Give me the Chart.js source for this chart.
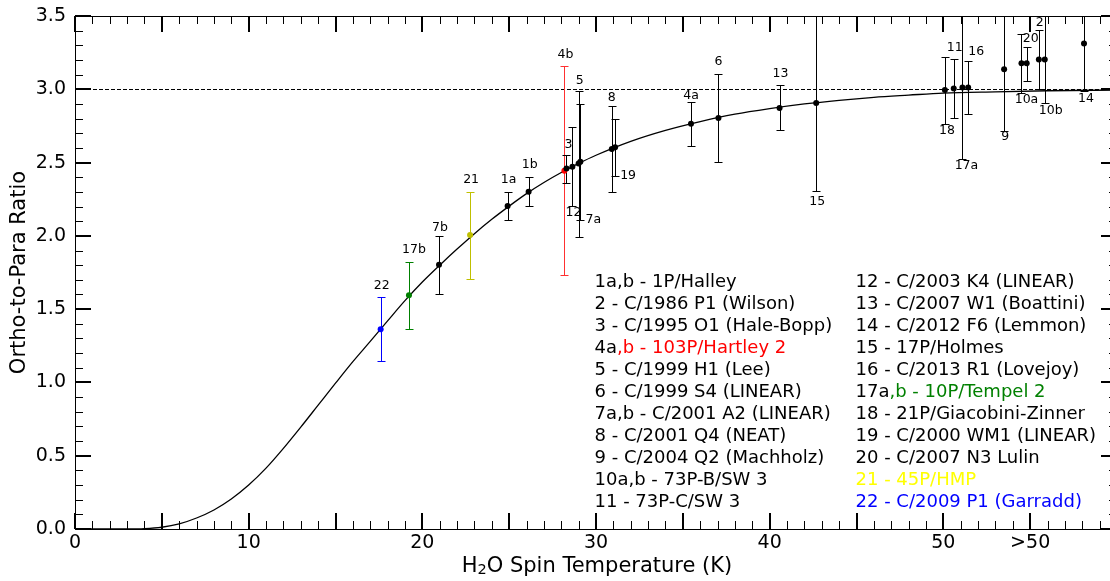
<!DOCTYPE html>
<html>
<head>
<meta charset="utf-8">
<script src="https://cdn.jsdelivr.net/npm/chart.js@4.4.1/dist/chart.umd.min.js"></script>
<style>
  html, body { margin: 0; padding: 0; background: #fff; overflow: hidden; }
  canvas { display: block; }
</style>
</head>
<body>
<canvas id="myChart" width="1117" height="581"></canvas>
<script>
// Comet measurements: label, spin temperature (K), ortho-to-para ratio, error bar ends
const cometLabels = ['22', '17b', '7b', '21', '1a', '1b', '4b', '3', '12', '5', '7a', '8', '19',
    '4a', '6', '13', '15', '18', '11', '17a', '16', '9', '10a', '20', '2', '10b', '14'];
const spinTemps = [17.6, 19.23, 20.96, 22.75, 24.91, 26.12, 28.18, 28.3, 28.64, 29.0, 29.1, 30.91, 31.1,
    35.47, 37.05, 40.57, 42.68, 50.09, 50.6, 51.1, 51.43, 53.5, 54.5, 54.8, 55.5, 55.84, 58.1];
const orthoPara = [1.362, 1.594, 1.803, 2.005, 2.203, 2.301, 2.444, 2.46, 2.471, 2.494, 2.506, 2.592, 2.604,
    2.765, 2.804, 2.872, 2.906, 2.995, 3.006, 3.013, 3.013, 3.136, 3.177, 3.177, 3.204, 3.204, 3.313];
const errLow = [1.144, 1.362, 1.603, 1.705, 2.105, 2.203, 1.733, 2.358, 2.203, 1.994, 2.108, 2.297, 2.408,
    2.613, 2.506, 2.724, 2.303, 2.763, 2.804, 2.526, 2.833, 2.715, 2.976, 3.056, 3.004, 2.904, 2.99];
const errHigh = [1.585, 1.823, 2.0, 2.30, 2.30, 2.403, 3.158, 2.551, 2.74, 2.99, 2.90, 2.888, 2.80,
    2.913, 3.104, 3.027, 3.7, 3.222, 3.204, 3.7, 3.195, 3.7, 3.374, 3.29, 3.406, 3.7, 3.7];

// Model curve
const curveTemps = [0, 3, 4, 5, 6, 7, 8, 9, 10, 11, 12, 13, 14, 15, 16, 17, 18, 19, 20, 21, 22, 23, 24, 25,
    26, 27, 28, 29, 30, 32, 34, 36, 38, 40, 42, 44, 46, 48, 50, 53, 56, 60];
const curveRatios = [0, 0, 0.002, 0.012, 0.035, 0.075, 0.13, 0.205, 0.3, 0.415, 0.55, 0.695, 0.845, 0.995,
    1.142, 1.28, 1.42, 1.558, 1.685, 1.80, 1.91, 2.015, 2.113, 2.203, 2.288, 2.364, 2.432, 2.494, 2.55,
    2.645, 2.72, 2.78, 2.83, 2.868, 2.9, 2.925, 2.945, 2.96, 2.974, 2.983, 2.99, 2.995];

// Tick labels
const xTickValues = [0, 10, 20, 30, 40, 50, 55];
const xTickLabels = ['0', '10', '20', '30', '40', '50', '>50'];
const yTickValues = [0, 0.5, 1, 1.5, 2, 2.5, 3, 3.5];

// Key text
const legendLeft = ['1a,b - 1P/Halley', '2 - C/1986 P1 (Wilson)', '3 - C/1995 O1 (Hale-Bopp)',
    '4a,b - 103P/Hartley 2', '5 - C/1999 H1 (Lee)', '6 - C/1999 S4 (LINEAR)', '7a,b - C/2001 A2 (LINEAR)',
    '8 - C/2001 Q4 (NEAT)', '9 - C/2004 Q2 (Machholz)', '10a,b - 73P-B/SW 3', '11 - 73P-C/SW 3'];
const legendRight = ['12 - C/2003 K4 (LINEAR)', '13 - C/2007 W1 (Boattini)', '14 - C/2012 F6 (Lemmon)',
    '15 - 17P/Holmes', '16 - C/2013 R1 (Lovejoy)', '17a,b - 10P/Tempel 2', '18 - 21P/Giacobini-Zinner',
    '19 - C/2000 WM1 (LINEAR)', '20 - C/2007 N3 Lulin', '21 - 45P/HMP', '22 - C/2009 P1 (Garradd)'];

// Styling
const FONT = 'DejaVu Sans';
const markColor = { '22': '#0000ff', '17b': '#008000', '21': '#bfbf00', '4b': '#ff0000' };
const barColor = { '22': '#0000ff', '17b': '#008000', '21': '#bfbf00', '4b': '#ff3030' };
const legendAccent = {
    '4a,b - 103P/Hartley 2': [2, '#ff0000'],
    '17a,b - 10P/Tempel 2': [3, '#008000'],
    '21 - 45P/HMP': [0, '#ffff00'],
    '22 - C/2009 P1 (Garradd)': [0, '#0000ff']
};
// where each point label sits: end of the bar, dx, dy (px)
const labelPlace = {
    '22': ['top', 1, -11], '17b': ['top', 5, -12], '7b': ['top', 1, -8], '21': ['top', 1, -12],
    '1a': ['top', 1, -12], '1b': ['top', 1, -12], '4b': ['top', 1, -11], '3': ['top', 2, -10],
    '12': ['bottom', 1, 7], '5': ['top', 1, -10], '7a': ['bottom', 13, 0], '8': ['top', 0, -8],
    '19': ['bottom', 13, 0], '4a': ['top', 0, -6], '6': ['top', 0, -12], '13': ['top', 1, -12],
    '15': ['bottom', 1, 10], '18': ['bottom', 2, 7], '11': ['top', 1, -12], '17a': ['bottom', 4, 7],
    '16': ['top', 8, -9], '9': ['bottom', 1, 6], '10a': ['bottom', 5, 7], '20': ['top', 4, -8],
    '2': ['top', 1, -7], '10b': ['bottom', 6, 7], '14': ['bottom', 2, 8]
};

// Error bars and the 3.0 reference line, under the points
const errorBars = {
    id: 'errorBars',
    beforeDatasetsDraw(chart) {
        const { ctx, chartArea: a, scales: { x, y } } = chart;
        ctx.save();
        ctx.beginPath();
        ctx.rect(a.left, a.top, a.right - a.left, a.bottom - a.top);
        ctx.clip();

        const py3 = Math.round(y.getPixelForValue(3)) + 0.5;
        ctx.strokeStyle = '#000';
        ctx.lineWidth = 1;
        ctx.setLineDash([4, 2]);
        ctx.beginPath();
        ctx.moveTo(a.left, py3);
        ctx.lineTo(a.right, py3);
        ctx.stroke();
        ctx.setLineDash([]);

        spinTemps.forEach((t, i) => {
            const px = Math.round(x.getPixelForValue(t)) + 0.5;
            const top = Math.round(y.getPixelForValue(errHigh[i])) + 0.5;
            const bot = Math.round(y.getPixelForValue(errLow[i])) + 0.5;
            ctx.strokeStyle = barColor[cometLabels[i]] || '#000';
            ctx.beginPath();
            ctx.moveTo(px, top); ctx.lineTo(px, bot);
            ctx.moveTo(px - 4, top); ctx.lineTo(px + 4, top);
            ctx.moveTo(px - 4, bot); ctx.lineTo(px + 4, bot);
            ctx.stroke();
        });
        ctx.restore();
    }
};

// Point labels, the key and the x axis title (with a real subscript)
const textLayer = {
    id: 'textLayer',
    afterDatasetsDraw(chart) {
        const { ctx, scales: { x, y } } = chart;
        ctx.save();
        ctx.fillStyle = '#000';
        ctx.font = '12.5px "' + FONT + '"';
        ctx.textAlign = 'center';
        ctx.textBaseline = 'middle';
        cometLabels.forEach((lab, i) => {
            const p = labelPlace[lab];
            const end = p[0] === 'top' ? errHigh[i] : errLow[i];
            const px = x.getPixelForValue(spinTemps[i]) + p[1];
            const py = Math.max(y.getPixelForValue(end), y.top) + p[2];
            ctx.fillText(lab, px, py);
        });

        ctx.font = '18px "' + FONT + '"';
        ctx.textAlign = 'left';
        ctx.textBaseline = 'alphabetic';
        const drawCol = (list, x0) => {
            list.forEach((s, k) => {
                const yb = 287 + k * 22;
                const acc = legendAccent[s];
                if (!acc) {
                    ctx.fillStyle = '#000';
                    ctx.fillText(s, x0, yb);
                    return;
                }
                const head = s.slice(0, acc[0]);
                ctx.fillStyle = '#000';
                ctx.fillText(head, x0, yb);
                ctx.fillStyle = acc[1];
                ctx.fillText(s.slice(acc[0]), x0 + ctx.measureText(head).width, yb);
            });
        };
        drawCol(legendLeft, 594.5);
        drawCol(legendRight, 855.5);

        // x axis title
        const big = '21px "' + FONT + '"', small = '14.5px "' + FONT + '"';
        const rest = 'O Spin Temperature (K)';
        ctx.fillStyle = '#000';
        ctx.font = big;
        const wH = ctx.measureText('H').width, wR = ctx.measureText(rest).width;
        ctx.font = small;
        const w2 = ctx.measureText('2').width;
        const tx = 597 - (wH + w2 + wR) / 2;
        const base = 571.5;
        ctx.font = big;
        ctx.fillText('H', tx, base);
        ctx.font = small;
        ctx.fillText('2', tx + wH, base + 2.5);
        ctx.font = big;
        ctx.fillText(rest, tx + wH + w2, base);
        ctx.restore();
    }
};

// Frame with inward ticks on all four sides
const frameTicks = {
    id: 'frameTicks',
    afterDraw(chart) {
        const { ctx, chartArea: a, scales: { x, y } } = chart;
        ctx.save();
        ctx.strokeStyle = '#000';
        ctx.lineWidth = 1;
        ctx.strokeRect(Math.round(a.left) + 0.5, Math.round(a.top) + 0.5,
            Math.round(a.right - a.left), Math.round(a.bottom - a.top));

        for (let i = 0; i <= 60; i++) {
            const major = i % 5 === 0;
            const len = major ? 16 : 8;
            ctx.lineWidth = major ? 2 : 1;
            const px = major ? Math.round(x.getPixelForValue(i)) : Math.round(x.getPixelForValue(i)) + 0.5;
            ctx.beginPath();
            ctx.moveTo(px, a.bottom); ctx.lineTo(px, a.bottom - len);
            ctx.moveTo(px, a.top); ctx.lineTo(px, a.top + len);
            ctx.stroke();
        }
        for (let k = 0; k <= 35; k++) {
            const major = k % 5 === 0;
            const len = major ? 16 : 8;
            ctx.lineWidth = major ? 2 : 1;
            const py = major ? Math.round(y.getPixelForValue(k / 10)) : Math.round(y.getPixelForValue(k / 10)) + 0.5;
            ctx.beginPath();
            ctx.moveTo(a.left, py); ctx.lineTo(a.left + len, py);
            ctx.moveTo(a.right, py); ctx.lineTo(a.right - len, py);
            ctx.stroke();
        }
        ctx.restore();
    }
};

const ctx = document.getElementById('myChart');

new Chart(ctx, {
    type: 'scatter',
    data: {
        datasets: [{
            label: 'comets',
            data: spinTemps.map((t, i) => ({ x: t, y: orthoPara[i] })),
            pointRadius: 3,
            pointHoverRadius: 3,
            pointBorderWidth: 0,
            pointBackgroundColor: cometLabels.map(l => markColor[l] || '#000'),
            order: 0
        }, {
            label: 'model',
            data: curveTemps.map((t, i) => ({ x: t, y: curveRatios[i] })),
            showLine: true,
            borderColor: '#000',
            borderWidth: 1.3,
            pointRadius: 0,
            cubicInterpolationMode: 'monotone',
            order: 1
        }]
    },
    options: {
        responsive: false,
        animation: false,
        events: [],
        layout: { autoPadding: false, padding: { top: 16, right: 0, bottom: 0, left: 0 } },
        plugins: { legend: { display: false }, tooltip: { enabled: false } },
        scales: {
            x: {
                type: 'linear',
                min: 0,
                max: 60,
                grid: { display: false, drawTicks: false },
                border: { display: false },
                afterBuildTicks: s => { s.ticks = xTickValues.map(v => ({ value: v })); },
                afterFit: s => { s.height = 52; s.paddingLeft = 0; s.paddingRight = 0; },
                ticks: {
                    color: '#000',
                    font: { family: FONT, size: 19 },
                    padding: 3,
                    maxRotation: 0,
                    autoSkip: false,
                    callback: v => xTickLabels[xTickValues.indexOf(v)]
                },
                title: { display: false }
            },
            y: {
                min: 0,
                max: 3.5,
                grid: { display: false, drawTicks: false },
                border: { display: false },
                afterBuildTicks: s => { s.ticks = yTickValues.map(v => ({ value: v })); },
                afterFit: s => { s.width = 75; s.paddingTop = 0; s.paddingBottom = 0; },
                ticks: {
                    color: '#000',
                    font: { family: FONT, size: 19 },
                    padding: 9,
                    callback: v => v.toFixed(1)
                },
                title: {
                    display: true,
                    text: 'Ortho-to-Para Ratio',
                    color: '#000',
                    font: { family: FONT, size: 21 },
                    padding: { top: 7, bottom: 0 }
                }
            }
        }
    },
    plugins: [errorBars, textLayer, frameTicks]
});
</script>
</body>
</html>
